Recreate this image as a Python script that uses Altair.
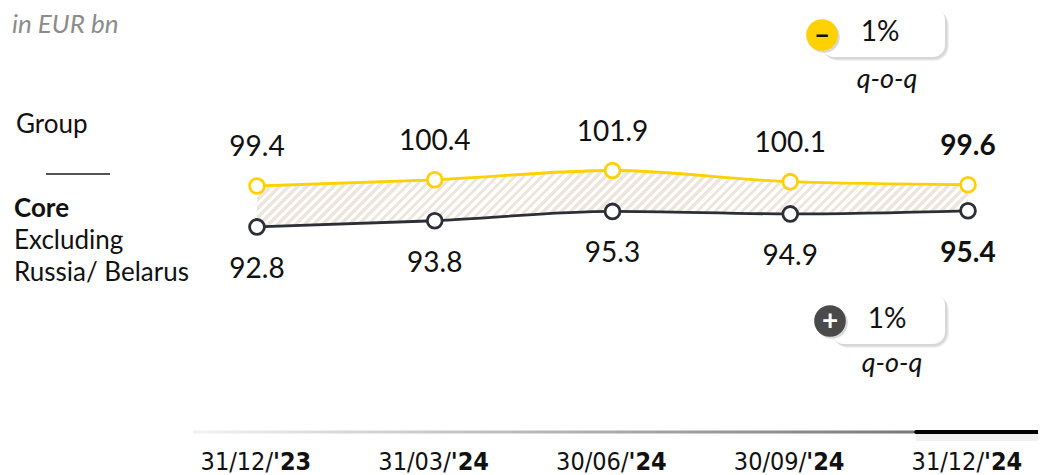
import altair as alt
import pandas as pd

# ---- data ----
date_prefix = ["31/12/", "31/03/", "30/06/", "30/09/", "31/12/"]
date_year = ["'23", "'24", "'24", "'24", "'24"]
group_vals = [99.4, 100.4, 101.9, 100.1, 99.6]
core_vals = [92.8, 93.8, 95.3, 94.9, 95.4]
group_change = "1%"
core_change = "1%"

df = pd.DataFrame({
    "idx": list(range(len(group_vals))),
    "prefix": date_prefix,
    "year": date_year,
    "group": group_vals,
    "core": core_vals,
})
df["group_lbl"] = df["group"].map(lambda v: f"{v:.1f}")
df["core_lbl"] = df["core"].map(lambda v: f"{v:.1f}")
last = len(group_vals) - 1

W, H = 1030, 467
FONT = "Lato"
YELLOW = "#FFD100"
DARK = "#2d2f36"

xs = alt.Scale(domain=[-1.4008, 4.3938])
ys = alt.Scale(domain=[52.79, 128.11])
X = alt.X("idx:Q", scale=xs, axis=None)

base = alt.Chart(df)

# hatched band via a striped linear gradient (style only)
band_w = 4 * 177.75
band_h = (max(group_vals) - min(core_vals)) * 6.2
r = band_h / band_w
k = (band_w + band_h) / (band_w + band_h * band_h / band_w)
n_periods = int(round((band_w + band_h) / 9.0))
stops = []
for i in range(n_periods):
    a = i / n_periods
    b = (i + 0.5) / n_periods
    c = (i + 1) / n_periods
    stops += [alt.GradientStop(color="#ece6dc", offset=a),
              alt.GradientStop(color="#ece6dc", offset=b),
              alt.GradientStop(color="#ffffff", offset=b),
              alt.GradientStop(color="#ffffff", offset=c)]
stripe = alt.Gradient(gradient="linear", stops=stops, x1=0, y1=0, x2=k, y2=k * r)

band = base.mark_area(color=stripe, opacity=1, interpolate="monotone").encode(
    x=X,
    y=alt.Y("group:Q", scale=ys, axis=None),
    y2="core:Q",
)

line_g = base.mark_line(color=YELLOW, strokeWidth=2.8, interpolate="monotone").encode(
    x=X, y=alt.Y("group:Q", scale=ys, axis=None))
line_c = base.mark_line(color=DARK, strokeWidth=2.8, interpolate="monotone").encode(
    x=X, y=alt.Y("core:Q", scale=ys, axis=None))
pt_g = base.mark_point(shape="circle", filled=True, fill="white", stroke=YELLOW,
                       strokeWidth=2.8, size=220, opacity=1).encode(
    x=X, y=alt.Y("group:Q", scale=ys, axis=None))
pt_c = base.mark_point(shape="circle", filled=True, fill="white", stroke=DARK,
                       strokeWidth=2.8, size=220, opacity=1).encode(
    x=X, y=alt.Y("core:Q", scale=ys, axis=None))

def vlabel(field, text_field, dy, bold):
    flt = (alt.datum.idx == last) if bold else (alt.datum.idx != last)
    return base.transform_filter(flt).mark_text(
        font=FONT, fontSize=28, fontWeight="bold" if bold else "normal",
        color="#111111", baseline="middle", align="center", dy=dy
    ).encode(x=X, y=alt.Y(f"{field}:Q", scale=ys, axis=None), text=f"{text_field}:N")

lbl_g = vlabel("group", "group_lbl", -38, False)
lbl_g_b = vlabel("group", "group_lbl", -38, True)
lbl_c = vlabel("core", "core_lbl", 43, False)
lbl_c_b = vlabel("core", "core_lbl", 43, True)

# x-axis date labels
NARROW = "Liberation Sans Narrow, DejaVu Sans Condensed, Arial Narrow, sans-serif"
xl_pre = base.mark_text(font=NARROW, fontSize=25, align="right", baseline="middle",
                        dx=16, color="#111111").encode(
    x=X, y=alt.value(454), text="prefix:N")
xl_year = base.mark_text(font=NARROW, fontSize=25, fontWeight="bold", align="left",
                         baseline="middle", dx=16, color="#111111").encode(
    x=X, y=alt.value(454), text="year:N")

def one():
    return alt.Chart(alt.Data(values=[{}]))

# bottom timeline
grad = alt.Gradient(gradient="linear",
                    stops=[alt.GradientStop(color="#f2f2f2", offset=0),
                           alt.GradientStop(color="#777777", offset=1)],
                    x1=0, x2=1, y1=0, y2=0)
tl = one().mark_rect(color=grad).encode(
    x=alt.value(185), x2=alt.value(906), y=alt.value(422.5), y2=alt.value(425.5))
tl_shadow = one().mark_rect(color="#000000", opacity=0.06).encode(
    x=alt.value(908), x2=alt.value(1030), y=alt.value(426), y2=alt.value(433))
tl_black = one().mark_rect(color="#000000", cornerRadius=2).encode(
    x=alt.value(906), x2=alt.value(1032), y=alt.value(422), y2=alt.value(426))

# left legend texts
def txt(t, x, y, size=24, weight="normal", style="normal", color="#111111",
        align="left", baseline="alphabetic", font=FONT):
    return one().mark_text(text=t, font=font, fontSize=size, fontWeight=weight,
                           fontStyle=style, color=color, align=align,
                           baseline=baseline).encode(x=alt.value(x), y=alt.value(y))

unit = txt("in EUR bn", 4, 25, size=26, style="italic", color="#8c8c8c")
grp = txt("Group", 8, 125, size=26)
sep = one().mark_rule(color="#555555", strokeWidth=2).encode(
    x=alt.value(38), x2=alt.value(102), y=alt.value(166))
core1 = txt("Core", 6, 209, size=26, weight="bold")
core2 = txt("Excluding", 6, 241, size=26)
core3 = txt("Russia/ Belarus", 6, 273, size=26)

# badges
def badge(x0, x1, y0, y1, cx, cy, circ_color, sym, sym_color, pct, px, py, qx, qy):
    layers = []
    for i, op in enumerate([0.05, 0.05, 0.06]):
        d = i + 1
        layers.append(one().mark_rect(color="#000000", opacity=op, cornerRadius=12 + d).encode(
            x=alt.value(x0 + d - 1), x2=alt.value(x1 + d + 1),
            y=alt.value(y0 + d), y2=alt.value(y1 + d + 1)))
    layers.append(one().mark_rect(color="white", cornerRadius=12).encode(
        x=alt.value(x0), x2=alt.value(x1), y=alt.value(y0), y2=alt.value(y1)))
    layers.append(one().mark_point(shape="circle", filled=True, color="#000000",
                                   opacity=0.15, size=1000).encode(
        x=alt.value(cx + 2), y=alt.value(cy + 2)))
    layers.append(one().mark_point(shape="circle", filled=True, color=circ_color,
                                   opacity=1, size=1000).encode(
        x=alt.value(cx), y=alt.value(cy)))
    layers.append(txt(sym, cx, cy + 1, size=28, weight="bold", color=sym_color,
                      align="center", baseline="middle"))
    layers.append(txt(pct, px, py, size=28, color="#111111", align="center",
                      baseline="middle"))
    layers.append(txt("q-o-q", qx, qy, size=27, style="italic", color="#111111",
                      align="center", baseline="middle"))
    return layers

b1 = badge(814, 937, 0, 49, 814, 27, YELLOW, "–", "#111111", group_change,
           872, 25, 879, 72)
b2 = badge(824, 937, 285, 336, 822, 313, "#4a4a4a", "+", "#ffffff", core_change,
           879, 312, 884, 356)

chart = alt.layer(
    band, line_g, line_c, pt_g, pt_c,
    lbl_g, lbl_g_b, lbl_c, lbl_c_b,
    xl_pre, xl_year, tl, tl_shadow, tl_black,
    unit, grp, sep, core1, core2, core3,
    *b1, *b2,
).properties(
    width=W, height=H, padding=0,
    autosize=alt.AutoSizeParams(type="none"),
    background="white",
).configure_view(strokeWidth=0)

chart.save("out.html", embed_options={"renderer": "svg", "actions": False})
